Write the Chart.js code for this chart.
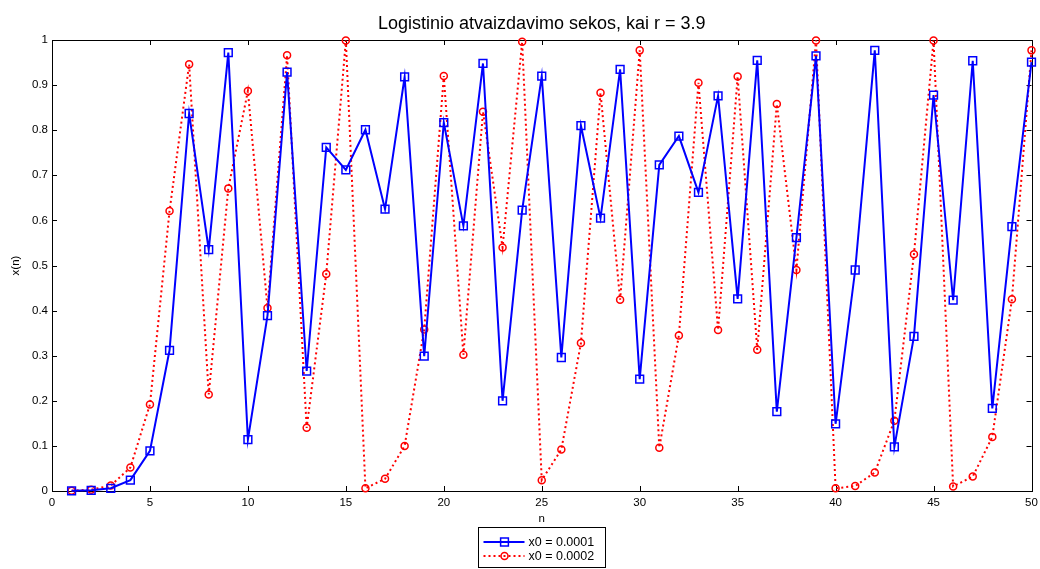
<!DOCTYPE html>
<html>
<head>
<meta charset="utf-8">
<title>Logistinio atvaizdavimo sekos</title>
<script src="https://cdn.jsdelivr.net/npm/chart.js@4.4.1/dist/chart.umd.min.js"></script>
<style>
  html, body { margin: 0; padding: 0; background: #fff; }
  #wrap { width: 1040px; height: 569px; position: relative; }
</style>
</head>
<body>
<div id="wrap"><canvas id="logChart"></canvas></div>
<script>
// duomenys nuskaityti nuo paveikslo
const nValues = [1, 2, 3, 4, 5, 6, 7, 8, 9, 10, 11, 12, 13, 14, 15, 16, 17, 18, 19, 20,
  21, 22, 23, 24, 25, 26, 27, 28, 29, 30, 31, 32, 33, 34, 35, 36, 37, 38, 39, 40,
  41, 42, 43, 44, 45, 46, 47, 48, 49, 50];

// x0 = 0.0001
const seriesA = [0.0004, 0.0015, 0.006, 0.024, 0.089, 0.312, 0.837, 0.535, 0.972, 0.114,
  0.389, 0.929, 0.266, 0.762, 0.712, 0.801, 0.625, 0.918, 0.299, 0.817,
  0.588, 0.948, 0.200, 0.623, 0.920, 0.296, 0.810, 0.605, 0.935, 0.248,
  0.723, 0.787, 0.662, 0.876, 0.426, 0.955, 0.176, 0.562, 0.965, 0.149,
  0.490, 0.977, 0.098, 0.343, 0.878, 0.423, 0.954, 0.183, 0.586, 0.951];

// x0 = 0.0002
const seriesB = [0.0008, 0.003, 0.012, 0.052, 0.192, 0.621, 0.946, 0.214, 0.671, 0.887,
  0.406, 0.966, 0.140, 0.481, 0.999, 0.006, 0.027, 0.100, 0.358, 0.920,
  0.302, 0.841, 0.540, 0.996, 0.024, 0.092, 0.328, 0.883, 0.424, 0.977,
  0.096, 0.345, 0.905, 0.357, 0.919, 0.313, 0.858, 0.490, 0.999, 0.006,
  0.011, 0.041, 0.156, 0.525, 0.999, 0.010, 0.032, 0.120, 0.425, 0.977];

const seriesLabels = ["x0 = 0.0001", "x0 = 0.0002"];
const xTicks = [0, 5, 10, 15, 20, 25, 30, 35, 40, 45, 50];
const yTicks = [0, 0.1, 0.2, 0.3, 0.4, 0.5, 0.6, 0.7, 0.8, 0.9, 1];

const FONT = "'Liberation Sans', Arial, Helvetica, sans-serif";

function toPoints(ys) {
  return nValues.map((n, i) => ({ x: n, y: ys[i] }));
}

// rėmelis, vidinės žymos, pavadinimai ir legenda (MATLAB stilius)
const matlabFrame = {
  id: "matlabFrame",
  beforeDatasetsDraw(chart) {
    const { ctx, chartArea: a, scales } = chart;
    const tl = 5;
    ctx.save();
    ctx.strokeStyle = "#000";
    ctx.lineWidth = 1;
    ctx.beginPath();
    xTicks.forEach((v) => {
      const px = Math.round(scales.x.getPixelForValue(v)) + 0.5;
      ctx.moveTo(px, a.bottom); ctx.lineTo(px, a.bottom - tl);
      ctx.moveTo(px, a.top); ctx.lineTo(px, a.top + tl);
    });
    yTicks.forEach((v) => {
      const py = Math.round(scales.y.getPixelForValue(v)) + 0.5;
      ctx.moveTo(a.left, py); ctx.lineTo(a.left + tl, py);
      ctx.moveTo(a.right, py); ctx.lineTo(a.right - tl, py);
    });
    ctx.stroke();
    ctx.strokeRect(Math.round(a.left) + 0.5, Math.round(a.top) + 0.5,
      Math.round(a.right - a.left), Math.round(a.bottom - a.top));
    ctx.restore();
  },
  afterDraw(chart) {
    const { ctx, chartArea: a } = chart;
    const cx = (a.left + a.right) / 2;
    ctx.save();
    ctx.fillStyle = "#000";
    ctx.textAlign = "center";

    ctx.textBaseline = "alphabetic";
    ctx.font = "18px " + FONT;
    ctx.fillText("Logistinio atvaizdavimo sekos, kai r = 3.9", cx, 29);

    ctx.textBaseline = "middle";
    ctx.font = "11.5px " + FONT;
    ctx.fillText("n", cx, 519);
    ctx.save();
    ctx.translate(16, (a.top + a.bottom) / 2);
    ctx.rotate(-Math.PI / 2);
    ctx.fillText("x(n)", 0, 0);
    ctx.restore();

    // legenda
    const bw = 127, bh = 40;
    const bx = Math.round(cx - bw / 2) + 0.5, by = 527.5;
    ctx.fillStyle = "#fff";
    ctx.fillRect(bx, by, bw, bh);
    ctx.strokeStyle = "#000";
    ctx.lineWidth = 1;
    ctx.strokeRect(bx, by, bw, bh);

    chart.data.datasets.forEach((ds, i) => {
      const y = by + 14.5 + i * 14;
      ctx.save();
      ctx.strokeStyle = ds.borderColor;
      ctx.lineWidth = ds.borderWidth;
      ctx.setLineDash(ds.borderDash || []);
      ctx.beginPath();
      ctx.moveTo(bx + 5, y);
      ctx.lineTo(bx + 46, y);
      ctx.stroke();
      ctx.setLineDash([]);
      ctx.lineWidth = ds.pointBorderWidth;
      const mx = bx + 26;
      ctx.beginPath();
      if (ds.pointStyle === "rect") {
        const s = ds.pointRadius * Math.SQRT1_2;
        ctx.rect(mx - s, y - s, 2 * s, 2 * s);
      } else {
        ctx.arc(mx, y, ds.pointRadius, 0, Math.PI * 2);
      }
      ctx.stroke();
      ctx.restore();
      ctx.fillStyle = "#000";
      ctx.textAlign = "left";
      ctx.font = "12.5px " + FONT;
      ctx.fillText(ds.label, bx + 50, y + 0.5);
    });
    ctx.restore();
  }
};

new Chart(document.getElementById("logChart"), {
  type: "line",
  data: {
    datasets: [
      {
        label: seriesLabels[0],
        data: toPoints(seriesA),
        borderColor: "#0000ff",
        borderWidth: 2,
        pointStyle: "rect",
        pointRadius: 5.5,
        pointBorderWidth: 1.5,
        pointBorderColor: "#0000ff",
        pointBackgroundColor: "rgba(0,0,0,0)",
        tension: 0,
        clip: false
      },
      {
        label: seriesLabels[1],
        data: toPoints(seriesB),
        borderColor: "#ff0000",
        borderWidth: 2,
        borderDash: [2, 3],
        pointStyle: "circle",
        pointRadius: 3.5,
        pointBorderWidth: 1.5,
        pointBorderColor: "#ff0000",
        pointBackgroundColor: "rgba(0,0,0,0)",
        tension: 0,
        clip: false
      }
    ]
  },
  options: {
    responsive: true,
    maintainAspectRatio: false,
    animation: false,
    events: [],
    layout: { padding: { top: 40, right: 8.5, left: 0, bottom: 0 } },
    plugins: {
      legend: { display: false },
      title: { display: false },
      tooltip: { enabled: false }
    },
    scales: {
      x: {
        type: "linear",
        min: 0,
        max: 50,
        afterBuildTicks: (s) => { s.ticks = xTicks.map((v) => ({ value: v })); },
        afterFit: (s) => { s.height = 78; s.paddingLeft = 0; s.paddingRight = 0; },
        grid: { display: false, drawTicks: false },
        border: { display: false },
        ticks: {
          color: "#000",
          padding: 5,
          maxRotation: 0,
          font: { family: FONT, size: 11.5 },
          callback: (v) => String(v)
        }
      },
      y: {
        type: "linear",
        min: 0,
        max: 1,
        afterBuildTicks: (s) => { s.ticks = yTicks.map((v) => ({ value: v })); },
        afterFit: (s) => { s.width = 52; s.paddingTop = 0; s.paddingBottom = 0; },
        grid: { display: false, drawTicks: false },
        border: { display: false },
        ticks: {
          color: "#000",
          padding: 4,
          font: { family: FONT, size: 11.5 },
          callback: (v) => String(Math.round(v * 10) / 10)
        }
      }
    }
  },
  plugins: [matlabFrame]
});
</script>
</body>
</html>
